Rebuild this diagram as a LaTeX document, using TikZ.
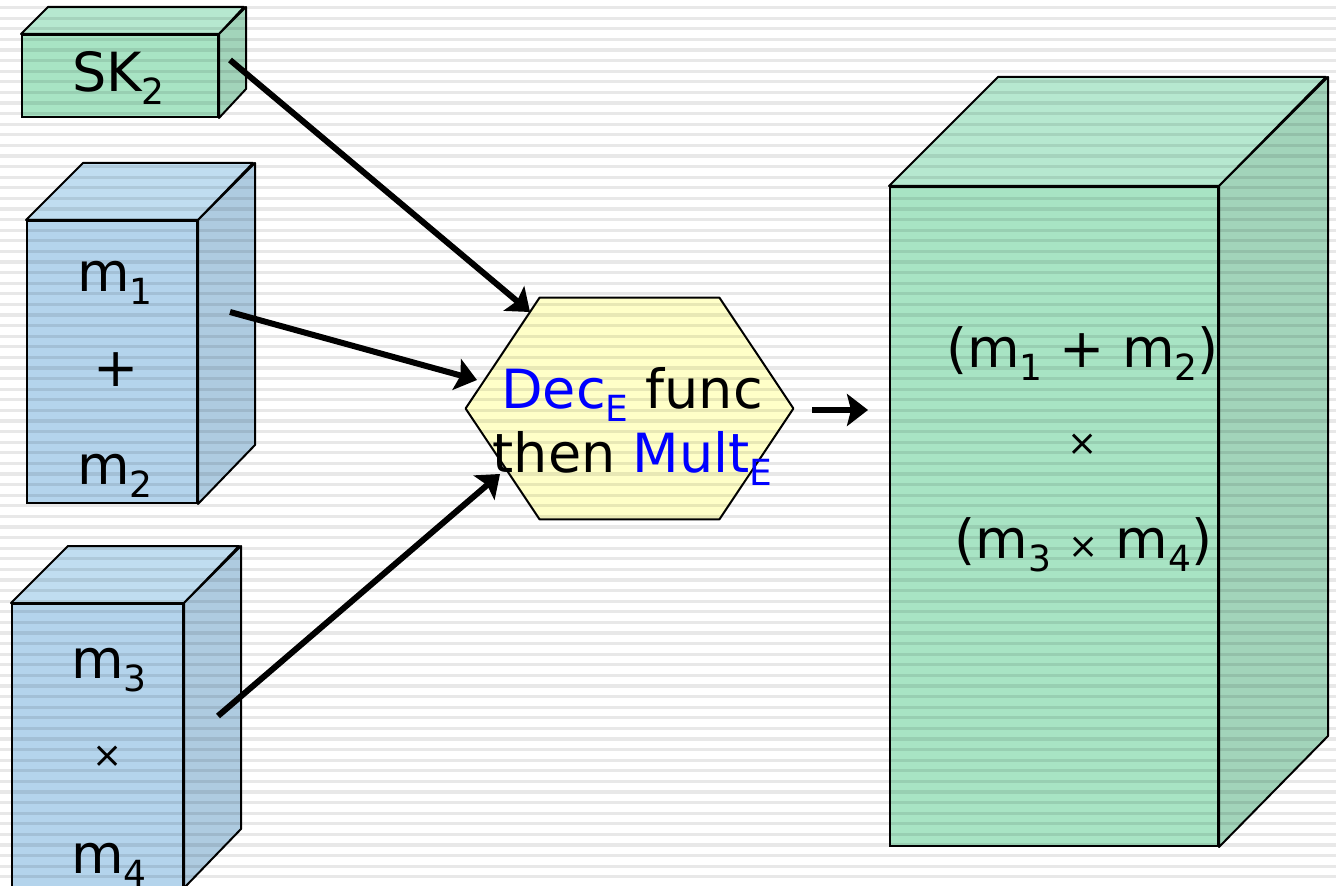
\documentclass[tikz,border=0pt]{standalone}
\usepackage{fontspec}
\setmainfont{DejaVu Sans}
\usetikzlibrary{arrows.meta}
\definecolor{gfront}{RGB}{168,228,196}
\definecolor{gtop}{RGB}{182,232,208}
\definecolor{gright}{RGB}{162,212,186}
\definecolor{bfront}{RGB}{180,212,236}
\definecolor{btop}{RGB}{192,221,240}
\definecolor{bright}{RGB}{174,203,224}
\definecolor{hexfill}{RGB}{255,255,200}
\definecolor{decblue}{RGB}{0,0,255}
\newcommand\sbs[1]{\raisebox{-6.5pt}{\fontsize{18}{18}\selectfont #1}}
\newcommand\smx{{\fontsize{18}{18}\selectfont ×}}
\tikzset{
  front/.style={draw, line width=1pt, rectangle, inner sep=0pt},
  face/.style={draw, line width=1pt, line join=round},
  txt/.style={inner sep=0pt, anchor=base, font=\fontsize{27}{32}\selectfont},
  sym/.style={inner sep=0pt, anchor=center, font=\fontsize{27}{32}\selectfont},
  conn/.style={line width=3pt, -{Stealth[length=10.5pt,width=16pt,inset=2pt]}},
}
\begin{document}
\begin{tikzpicture}[x=0.5pt,y=-0.5pt]
\useasboundingbox (0,0) rectangle (1336,886);
\fill[white] (0,0) rectangle (1336,886);

% SK2 box
\node[front, fill=gfront, minimum width=98pt, minimum height=41pt] (sk) at (120,76) {};
\draw[face, fill=gtop] (sk.north west) -- ++(27,-27) -- ++(196,0) -- (sk.north east) -- cycle;
\draw[face, fill=gright] (sk.north east) -- ++(27,-27) -- ++(0,82) -- (sk.south east) -- cycle;

% m1+m2 box
\node[front, fill=bfront, minimum width=85pt, minimum height=141pt] (b1) at (112,362) {};
\draw[face, fill=btop] (b1.north west) -- ++(57,-57) -- ++(170,0) -- (b1.north east) -- cycle;
\draw[face, fill=bright] (b1.north east) -- ++(57,-57) -- ++(0,282) -- (b1.south east) -- cycle;

% m3 x m4 box
\node[front, fill=bfront, minimum width=85.5pt, minimum height=141.5pt] (b2) at (97.5,745.5) {};
\draw[face, fill=btop] (b2.north west) -- ++(57,-57) -- ++(171,0) -- (b2.north east) -- cycle;
\draw[face, fill=bright] (b2.north east) -- ++(57,-57) -- ++(0,283) -- (b2.south east) -- cycle;

% result box
\node[front, fill=gfront, minimum width=164pt, minimum height=329.5pt] (big) at (1054,516.5) {};
\draw[face, fill=gtop] (big.north west) -- ++(109,-109) -- ++(328,0) -- (big.north east) -- cycle;
\draw[face, fill=gright] (big.north east) -- ++(109,-109) -- ++(0,659) -- (big.south east) -- cycle;

% hexagon
\node[inner sep=0pt, minimum width=163.5pt, minimum height=110.5pt] (hex) at (629.5,408.5) {};
\draw[face, fill=hexfill] ([xshift=37pt]hex.north west) -- ([xshift=-37pt]hex.north east) -- (hex.east)
  -- ([xshift=-37pt]hex.south east) -- ([xshift=37pt]hex.south west) -- (hex.west) -- cycle;

% stripes
\foreach \i in {0,...,83} {
  \fill[black, opacity=0.09] (0,{7.6+10.6*\i-1.6}) rectangle (1336,{7.6+10.6*\i+1.6});
}

% connectors
\coordinate (a1s) at (230,60);  \coordinate (a1e) at (530,312);
\coordinate (a2s) at (230,312); \coordinate (a2e) at (477,380);
\coordinate (a3s) at (218,716); \coordinate (a3e) at (500,474);
\coordinate (a4s) at (812,410); \coordinate (a4e) at (868,410);
\draw[conn] (a1s) -- (a1e);
\draw[conn] (a2s) -- (a2e);
\draw[conn] (a3s) -- (a3e);
\draw[conn] (a4s) -- (a4e);

% texts
\node[txt] (tsk) at (118.5,92) {SK\sbs{2}};
\node[txt] (tm1) at (115,292) {m\sbs{1}};
\node[sym] (tplus) at (116,370) {+};
\node[txt] (tm2) at (115,485) {m\sbs{2}};
\node[txt] (tm3) at (109,678) {m\sbs{3}};
\node[sym] (tx1) at (108,757) {\smx};
\node[txt] (tm4) at (109,873) {m\sbs{4}};
\node[txt] (th1) at (632,409) {{\color{decblue}Dec\sbs{E}} func};
\node[txt] (th2) at (632.5,473) {then {\color{decblue}Mult\sbs{E}}};
\node[txt] (tr1) at (1082.5,368) {(m\sbs{1} + m\sbs{2})};
\node[sym] (tx2) at (1083,445) {\smx};
\node[txt] (tr3) at (1083.5,558) {(m\sbs{3} \smx\ m\sbs{4})};
\end{tikzpicture}
\end{document}
